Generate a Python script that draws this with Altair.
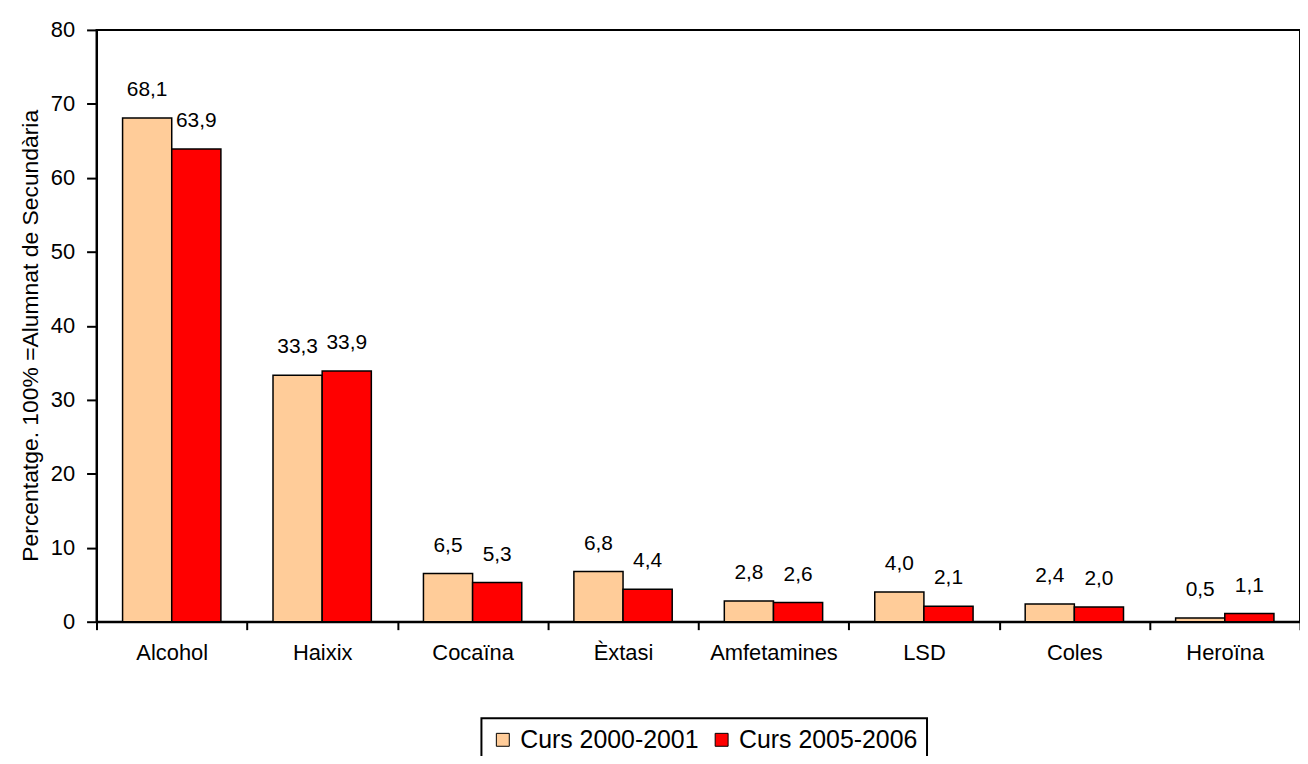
import altair as alt
import pandas as pd

categories = ["Alcohol", "Haixix", "Cocaïna", "Èxtasi", "Amfetamines", "LSD", "Coles", "Heroïna"]
series = ["Curs 2000-2001", "Curs 2005-2006"]
v2000 = [68.1, 33.3, 6.5, 6.8, 2.8, 4.0, 2.4, 0.5]
v2005 = [63.9, 33.9, 5.3, 4.4, 2.6, 2.1, 2.0, 1.1]
colors = ["#FFCC99", "#FF0000"]
y_ticks = [0, 10, 20, 30, 40, 50, 60, 70, 80]

rows = []
for s, vals in zip(series, [v2000, v2005]):
    for c, v in zip(categories, vals):
        rows.append({"cat": c, "serie": s, "val": v, "lab": f"{v:.1f}".replace(".", ",")})
df = pd.DataFrame(rows)

FONT = "Liberation Sans"

x = alt.X("cat:N", sort=categories, title=None,
          scale=alt.Scale(paddingInner=0, paddingOuter=0),
          axis=alt.Axis(labelAngle=0, labelFontSize=22, labelFont=FONT, labelColor="black",
                        tickBand="extent", tickSize=8, tickColor="black", tickWidth=2,
                        domainColor="black", domainWidth=2, labelPadding=13))
xo = alt.XOffset("serie:N", sort=series,
                 scale=alt.Scale(paddingInner=0, paddingOuter=0.53))
y = alt.Y("val:Q", title="Percentatge. 100% =Alumnat de Secundària",
          scale=alt.Scale(domain=[0, 80], nice=False),
          axis=alt.Axis(values=y_ticks, grid=False, labelFontSize=22, labelFont=FONT,
                        labelColor="black", tickSize=10, tickColor="black", tickWidth=2,
                        domainColor="black", domainWidth=2, labelPadding=12,
                        titleFont=FONT, titleFontSize=23, titleFontWeight="normal",
                        titleColor="black", titlePadding=8, titleY=307))

bars = alt.Chart(df).mark_bar(stroke="black", strokeWidth=1.5).encode(
    x=x, xOffset=xo, y=y,
    color=alt.Color("serie:N", sort=series,
                    scale=alt.Scale(domain=series, range=colors),
                    legend=alt.Legend(title=None, orient="none", legendX=387, legendY=692,
                                      direction="horizontal", symbolType="square",
                                      symbolSize=169, symbolStrokeColor="black",
                                      symbolStrokeWidth=1, labelFontSize=25, labelFont=FONT,
                                      labelColor="black", padding=9, strokeColor="black",
                                      columnPadding=10, labelOffset=5, labelLimit=500)),
)

labels = alt.Chart(df).mark_text(baseline="alphabetic", dy=-22, fontSize=21, font=FONT,
                                 color="black").encode(
    x=x, xOffset=xo, y=y, text="lab:N")

chart = alt.layer(bars, labels).properties(
    width=1210, height=595,
    autosize=alt.AutoSizeParams(type="none"),
    padding={"left": 89, "top": 20, "right": 0, "bottom": 133},
).configure_view(stroke="black", strokeWidth=2).configure_legend(strokeWidth=2)

chart.save("out.html", embed_options={"renderer": "svg", "actions": False})
